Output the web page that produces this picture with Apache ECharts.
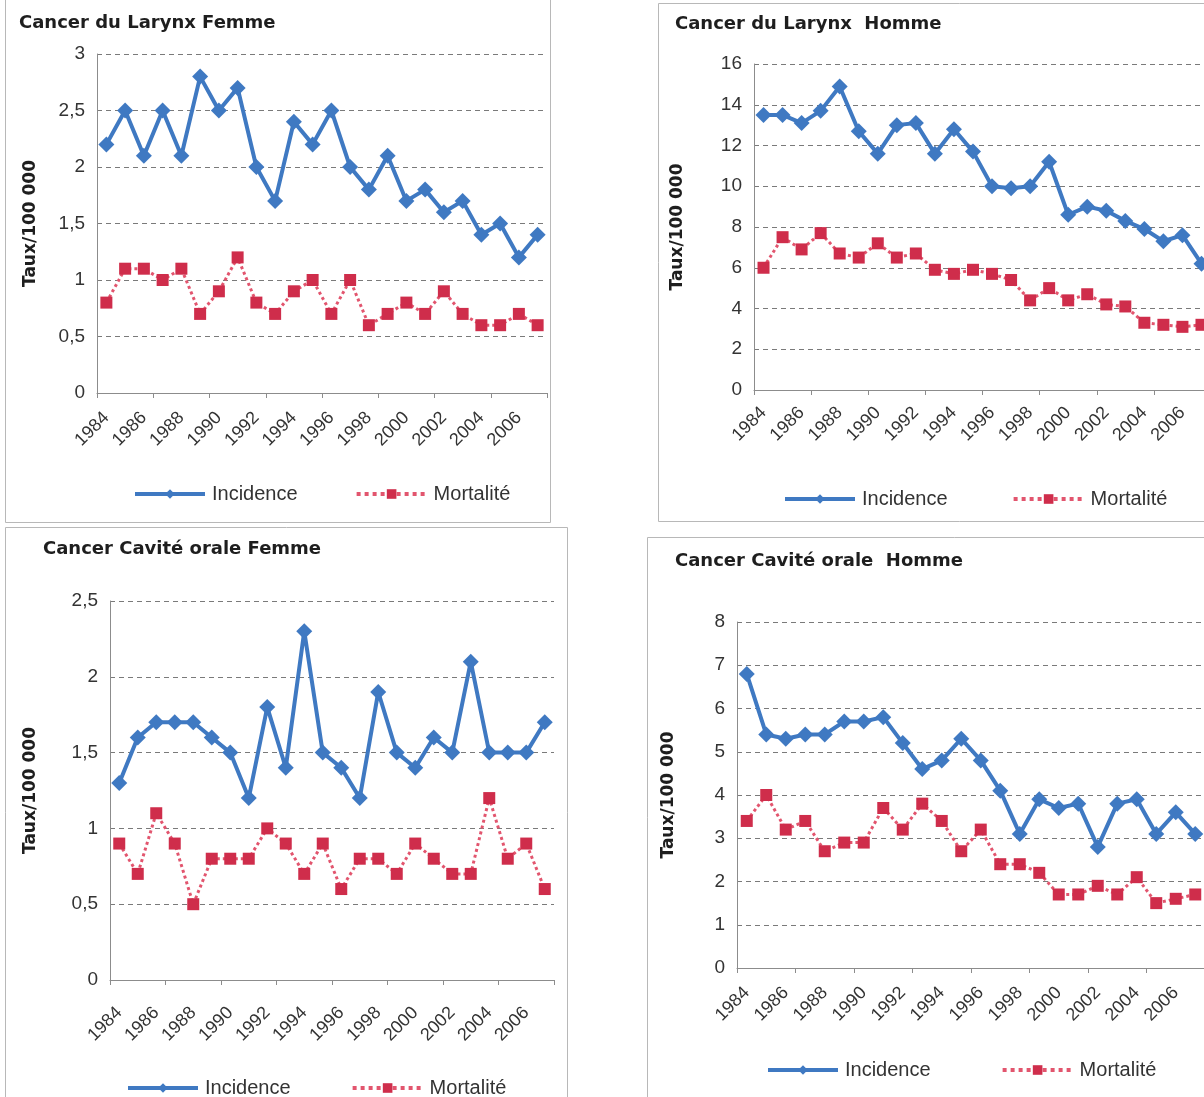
<!DOCTYPE html>
<html>
<head>
<meta charset="utf-8">
<script src="https://cdn.jsdelivr.net/npm/echarts@6/dist/echarts.min.js"></script>
<style>
html,body{margin:0;padding:0;background:#fff;overflow:hidden;}
#c{width:1260px;height:1097px;}
</style>
</head>
<body>
<div id="c"></div>
<script>
// ---- data ----
const years = ['1984','1985','1986','1987','1988','1989','1990','1991','1992','1993','1994','1995',
               '1996','1997','1998','1999','2000','2001','2002','2003','2004','2005','2006','2007'];
const seriesNames = ['Incidence', 'Mortalité'];
const titles = ['Cancer du Larynx Femme', 'Cancer du Larynx  Homme', 'Cancer Cavité orale Femme', 'Cancer Cavité orale  Homme'];
const yAxisName = 'Taux/100 000';

const larynxFemmeIncidence = [2.2,2.5,2.1,2.5,2.1,2.8,2.5,2.7,2.0,1.7,2.4,2.2,2.5,2.0,1.8,2.1,1.7,1.8,1.6,1.7,1.4,1.5,1.2,1.4];
const larynxFemmeMortalite = [0.8,1.1,1.1,1.0,1.1,0.7,0.9,1.2,0.8,0.7,0.9,1.0,0.7,1.0,0.6,0.7,0.8,0.7,0.9,0.7,0.6,0.6,0.7,0.6];

const larynxHommeIncidence = [13.5,13.5,13.1,13.7,14.9,12.7,11.6,13.0,13.1,11.6,12.8,11.7,10.0,9.9,10.0,11.2,8.6,9.0,8.8,8.3,7.9,7.3,7.6,6.2];
const larynxHommeMortalite = [6.0,7.5,6.9,7.7,6.7,6.5,7.2,6.5,6.7,5.9,5.7,5.9,5.7,5.4,4.4,5.0,4.4,4.7,4.2,4.1,3.3,3.2,3.1,3.2];

const oraleFemmeIncidence = [1.3,1.6,1.7,1.7,1.7,1.6,1.5,1.2,1.8,1.4,2.3,1.5,1.4,1.2,1.9,1.5,1.4,1.6,1.5,2.1,1.5,1.5,1.5,1.7];
const oraleFemmeMortalite = [0.9,0.7,1.1,0.9,0.5,0.8,0.8,0.8,1.0,0.9,0.7,0.9,0.6,0.8,0.8,0.7,0.9,0.8,0.7,0.7,1.2,0.8,0.9,0.6];

const oraleHommeIncidence = [6.8,5.4,5.3,5.4,5.4,5.7,5.7,5.8,5.2,4.6,4.8,5.3,4.8,4.1,3.1,3.9,3.7,3.8,2.8,3.8,3.9,3.1,3.6,3.1];
const oraleHommeMortalite = [3.4,4.0,3.2,3.4,2.7,2.9,2.9,3.7,3.2,3.8,3.4,2.7,3.2,2.4,2.4,2.2,1.7,1.7,1.9,1.7,2.1,1.5,1.6,1.7];

const yMax = [3, 16, 2.5, 8];
const yStep = [0.5, 2, 0.5, 1];

// ---- layout ----
const panels = [
  {grid:{left:97, top:54, width:450, height:339}, title:{left:14, top:9}, legend:{left:128, top:479}, gap2:57, nameGap:58, lblMargin:22,
   box:[5,-1,545,523], inc:larynxFemmeIncidence, mort:larynxFemmeMortalite},
  {grid:{left:754, top:64, width:457, height:326}, title:{left:670, top:10}, legend:{left:778, top:484}, gap2:64, nameGap:68, lblMargin:20,
   box:[658,3,620,518], inc:larynxHommeIncidence, mort:larynxHommeMortalite},
  {grid:{left:110, top:601, width:444, height:379}, title:{left:38, top:535}, legend:{left:121, top:1073}, gap2:60, nameGap:71, lblMargin:30,
   box:[5,527,562,620], inc:oraleFemmeIncidence, mort:oraleFemmeMortalite},
  {grid:{left:737, top:622, width:468, height:346}, title:{left:670, top:547}, legend:{left:761, top:1055}, gap2:70, nameGap:60, lblMargin:22,
   box:[647,537,620,620], inc:oraleHommeIncidence, mort:oraleHommeMortalite}
];

const FONT = '"Liberation Sans", Arial, sans-serif';
const BOLD = '"DejaVu Sans", "Liberation Sans", Arial, sans-serif';
const INC_COLOR = '#3F79C2';
const MORT_LINE = '#E2556E';
const MORT_MARK = '#CF2D4B';

const option = {
  animation:false,
  backgroundColor:'#fff',
  textStyle:{fontFamily:FONT},
  title:[], legend:[], grid:[], xAxis:[], yAxis:[], series:[],
  graphic:[]
};

panels.forEach((p, i) => {
  option.graphic.push({type:'rect', silent:true, z:-10,
    shape:{x:p.box[0]+0.5, y:p.box[1]+0.5, width:p.box[2], height:p.box[3]},
    style:{fill:'#fff', stroke:'#b8b8b8', lineWidth:1}});
  option.title.push({text:titles[i], left:p.title.left, top:p.title.top,
    textStyle:{fontFamily:BOLD, fontSize:18, fontWeight:'bold', color:'#1e1e1e'}});
  option.grid.push(Object.assign({containLabel:false}, p.grid));
  option.xAxis.push({type:'category', gridIndex:i, data:years, boundaryGap:true,
    axisLine:{lineStyle:{color:'#8c8c8c', width:1}},
    axisTick:{show:true, interval:2, length:5, lineStyle:{color:'#8c8c8c'}},
    axisLabel:{interval:1, rotate:45, fontSize:18, color:'#333', margin:p.lblMargin, fontFamily:FONT},
    splitLine:{show:false}});
  option.yAxis.push({type:'value', gridIndex:i, min:0, max:yMax[i], interval:yStep[i],
    name:yAxisName, nameLocation:'middle', nameGap:p.nameGap, nameRotate:90,
    nameTextStyle:{fontFamily:BOLD, fontSize:17, fontWeight:'bold', color:'#1e1e1e'},
    axisLine:{show:true, lineStyle:{color:'#8c8c8c', width:1}},
    axisTick:{show:false},
    axisLabel:{fontSize:19, color:'#333', margin:12, fontFamily:FONT,
      formatter:v => String(v).replace('.', ',')},
    splitLine:{show:true, lineStyle:{color:'#7a7a7a', type:[5,4], width:1}}});
  option.series.push({name:seriesNames[0], type:'line', xAxisIndex:i, yAxisIndex:i, data:p.inc,
    symbol:'diamond', symbolSize:16, showAllSymbol:true,
    lineStyle:{color:INC_COLOR, width:4}, itemStyle:{color:INC_COLOR}});
  option.series.push({name:seriesNames[1], type:'line', xAxisIndex:i, yAxisIndex:i, data:p.mort,
    symbol:'rect', symbolSize:12, showAllSymbol:true,
    lineStyle:{color:MORT_LINE, width:3, type:'dotted'}, itemStyle:{color:MORT_MARK}});
  option.legend.push({left:p.legend.left, top:p.legend.top, itemWidth:70, itemHeight:12, itemGap:p.gap2,
    lineStyle:{width:4},
    data:seriesNames, textStyle:{fontFamily:FONT, fontSize:20, color:'#333', padding:[0,0,0,2]}});
});

const chart = echarts.init(document.getElementById('c'), null, {renderer:'canvas'});
chart.setOption(option);
</script>
</body>
</html>
